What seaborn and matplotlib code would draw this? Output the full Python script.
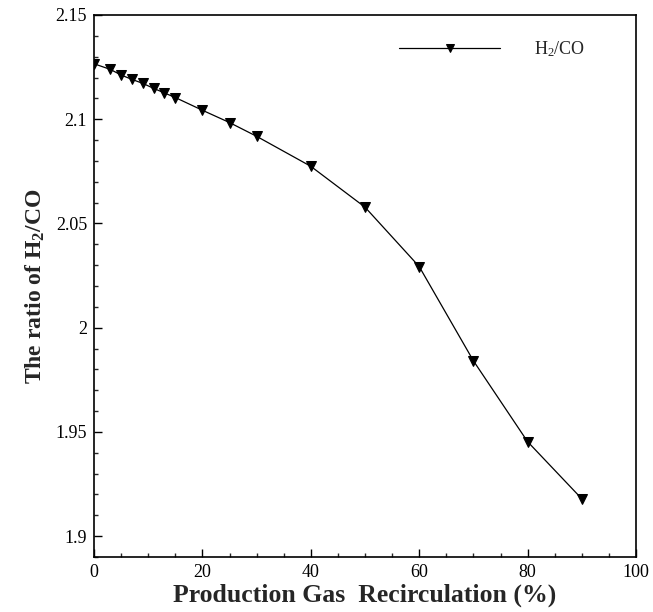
import matplotlib
matplotlib.use("Agg")
import matplotlib.pyplot as plt
from matplotlib.ticker import MultipleLocator
import seaborn as sns
import pandas as pd

recirculation = [0, 3, 5, 7, 9, 11, 13, 15, 20, 25, 30, 40, 50, 60, 70, 80, 90]
h2_co_ratio = [2.1266, 2.1239, 2.1212, 2.1191, 2.1172, 2.1148, 2.1126, 2.1104,
               2.1043, 2.0984, 2.0918, 2.0774, 2.0578, 2.0293, 1.9841, 1.9453, 1.9179]
series_name = "H$_2$/CO"
x_label = "Production Gas  Recirculation (%)"
y_label = r"The ratio of H$_\mathbf{2}$/CO"

sns.set_theme(style="ticks")
plt.rcParams["font.family"] = ["Liberation Serif", "DejaVu Serif"]
plt.rcParams["mathtext.fontset"] = "custom"
plt.rcParams["mathtext.rm"] = "Liberation Serif"
plt.rcParams["mathtext.it"] = "Liberation Serif:italic"
plt.rcParams["mathtext.bf"] = "Liberation Serif:bold"

df = pd.DataFrame({"x": recirculation, "y": h2_co_ratio, "series": series_name})

fig = plt.figure(figsize=(6.53, 6.12), dpi=100)
ax = fig.add_axes([0.144, 0.0899, 0.830, 0.8856])

sns.lineplot(data=df, x="x", y="y", hue="series", palette=["black"],
             marker="v", markersize=6.5, markeredgecolor="black",
             linewidth=0.9, ax=ax)

ax.set_xlim(0, 100)
ax.set_ylim(1.89, 2.15)
ax.xaxis.set_minor_locator(MultipleLocator(5))
ax.yaxis.set_minor_locator(MultipleLocator(0.01))
ax.set_yticks([1.9, 1.95, 2.0, 2.05, 2.1, 2.15])
ax.set_yticklabels(["1.9", "1.95", "2", "2.05", "2.1", "2.15"])
ax.set_xticks([0, 20, 40, 60, 80, 100])
ax.set_xticklabels(["0", "20", "40", "60", "80", "100"])

ax.tick_params(which="major", direction="in", length=6, width=1, labelsize=13, pad=5, colors="black")
ax.tick_params(which="minor", direction="in", length=3, width=1)
for s in ax.spines.values():
    s.set_linewidth(1.2)
    s.set_color("black")

ax.set_xlabel(x_label, fontsize=18.5, fontweight="bold", labelpad=2)
ax.set_ylabel(y_label, fontsize=17, fontweight="bold", labelpad=6)

ax.legend(loc="upper right", bbox_to_anchor=(0.937, 0.985), frameon=False,
          fontsize=13, handlelength=5.6, handletextpad=1.9, numpoints=1,
          markerscale=0.9)

fig.savefig("out.png", dpi=100)
